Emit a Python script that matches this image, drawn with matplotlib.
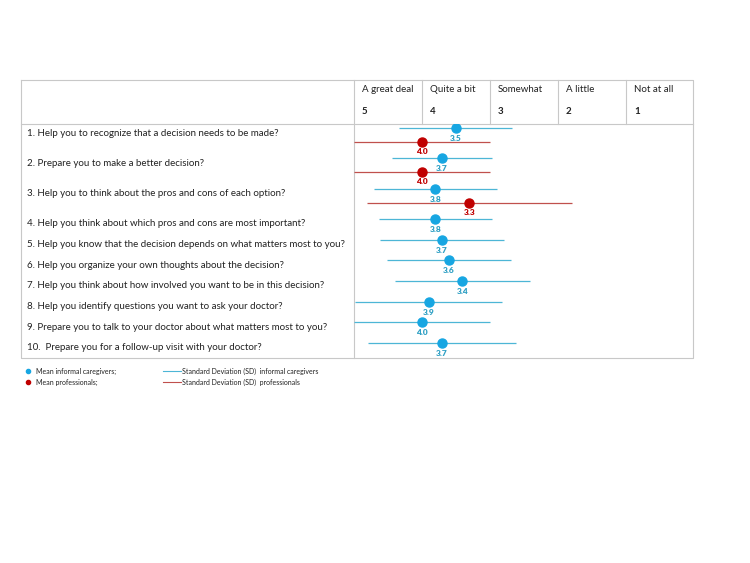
import matplotlib
matplotlib.use("Agg")
import matplotlib.pyplot as plt

# ---------------- data ----------------
questions = [
    "1. Help you to recognize that a decision needs to be made?",
    "2. Prepare you to make a better decision?",
    "3. Help you to think about the pros and cons of each option?",
    "4. Help you think about which pros and cons are most important?",
    "5. Help you know that the decision depends on what matters most to you?",
    "6. Help you organize your own thoughts about the decision?",
    "7. Help you think about how involved you want to be in this decision?",
    "8. Help you identify questions you want to ask your doctor?",
    "9. Prepare you to talk to your doctor about what matters most to you?",
    "10.  Prepare you for a follow-up visit with your doctor?",
]
caregiver_mean = [3.5, 3.7, 3.8, 3.8, 3.7, 3.6, 3.4, 3.9, 4.0, 3.7]
caregiver_sd = [0.83, 0.74, 0.91, 0.83, 0.91, 0.92, 1.0, 1.09, 1.0, 1.09]
prof_mean = [4.0, 4.0, 3.3]          # only first three questions
prof_sd = [1.0, 1.0, 1.51]
scale_labels = ["A great deal", "Quite a bit", "Somewhat", "A little", "Not at all"]
scale_values = ["5", "4", "3", "2", "1"]

# ---------------- style ----------------
FONT = ["Lato", "DejaVu Sans"]
BLUE_DOT = "#17A6E2"
BLUE_LINE = "#4DB6D6"
BLUE_TXT = "#2FA0C4"
RED_DOT = "#C00000"
RED_LINE = "#C0504D"
GRID = "#C8C8C8"
TXT = "#222222"

W, H = 750, 563
fig = plt.figure(figsize=(W / 100, H / 100), dpi=100)
fig.patch.set_facecolor("white")

# background axes in pixel coordinates for the table frame and text
bg = fig.add_axes([0, 0, 1, 1])
bg.set_xlim(0, W)
bg.set_ylim(H, 0)
bg.axis("off")

L, R, T, B = 21, 693, 80, 358
HDR = 124
DIV = 354
col_edges = [DIV, 422, 490, 558, 626, R]

lw = 0.8
bg.plot([L, R, R, L, L], [T, T, B, B, T], color=GRID, lw=lw)
bg.plot([L, R], [HDR, HDR], color=GRID, lw=lw)
bg.plot([DIV, DIV], [T, B], color=GRID, lw=lw)
for xe in col_edges[1:-1]:
    bg.plot([xe, xe], [T, HDR], color=GRID, lw=lw)

for i, (lab, val) in enumerate(zip(scale_labels, scale_values)):
    x0 = col_edges[i] + 8
    bg.text(x0, 90, lab, fontsize=7, family=FONT, color=TXT, va="center", ha="left")
    bg.text(x0, 112, val, fontsize=7, family=FONT, color=TXT, va="center", ha="left",
            fontweight="bold")

# row layout (label centres in pixels)
row_y = [133, 163, 194, 224, 244.5, 265, 286, 306.5, 327, 347.5]
for q, y in zip(questions, row_y):
    bg.text(27, y, q, fontsize=7, family=FONT, color=TXT, va="center", ha="left")

# data axes: x = score (5 at left, 0 at right), y in pixels
dax = fig.add_axes([DIV / W, 1 - B / H, (R - DIV) / W, (B - HDR) / H])
dax.set_xlim(5, 0)
dax.set_ylim(B, HDR)
dax.axis("off")
dax.patch.set_alpha(0)

for i, (m, s) in enumerate(zip(caregiver_mean, caregiver_sd)):
    y = row_y[i] - 4.5
    dax.plot([m - s, m + s], [y, y], color=BLUE_LINE, lw=0.9, solid_capstyle="butt",
             clip_on=True)
    dax.plot([m], [y], "o", color=BLUE_DOT, ms=6.5, mec=BLUE_DOT, zorder=5)
    dax.text(m, y + 10.5, f"{m:.1f}", fontsize=6, family=FONT, fontweight="heavy",
             color=BLUE_TXT, ha="center", va="center")

for i, (m, s) in enumerate(zip(prof_mean, prof_sd)):
    y = row_y[i] + 9
    dax.plot([m - s, m + s], [y, y], color=RED_LINE, lw=0.9, solid_capstyle="butt")
    dax.plot([m], [y], "o", color=RED_DOT, ms=6.5, mec=RED_DOT, zorder=5)
    dax.text(m, y + 10, f"{m:.1f}", fontsize=6, family=FONT, fontweight="heavy",
             color=RED_DOT, ha="center", va="center")

# legend
bg.plot([28], [371], "o", color=BLUE_DOT, ms=3)
bg.plot([28], [382], "o", color=RED_DOT, ms=3)
bg.text(36, 371, "Mean informal caregivers;", fontsize=5, family=FONT, color=TXT,
        va="center", ha="left")
bg.text(36, 382, "Mean professionals;", fontsize=5, family=FONT, color=TXT,
        va="center", ha="left")
bg.plot([163, 181], [371, 371], color=BLUE_LINE, lw=0.8)
bg.plot([163, 181], [382, 382], color=RED_LINE, lw=0.8)
bg.text(182, 371, "Standard Deviation (SD)  informal caregivers", fontsize=5, family=FONT,
        color=TXT, va="center", ha="left")
bg.text(182, 382, "Standard Deviation (SD)  professionals", fontsize=5, family=FONT,
        color=TXT, va="center", ha="left")

fig.savefig("out.png", dpi=100, facecolor="white")
